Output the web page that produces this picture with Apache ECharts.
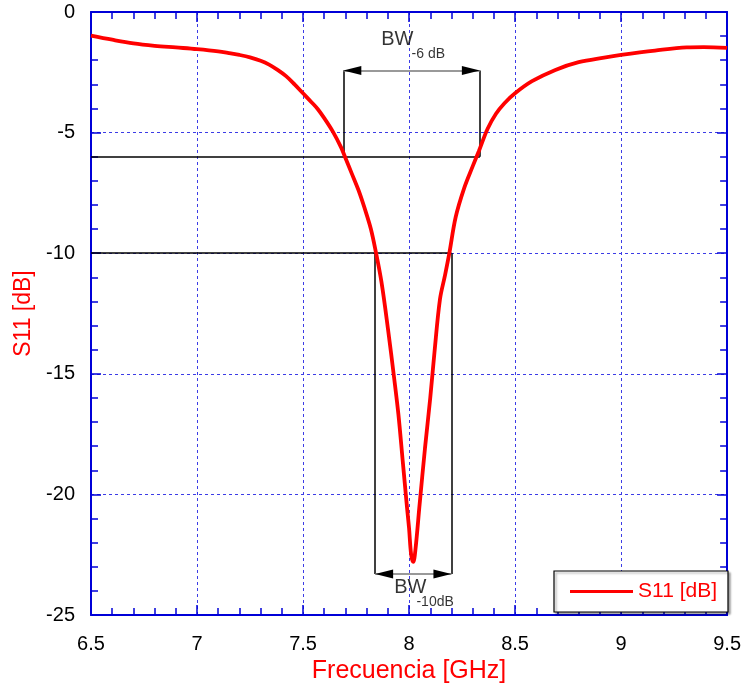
<!DOCTYPE html>
<html>
<head>
<meta charset="utf-8">
<style>html,body{margin:0;padding:0;background:#fff}#c{width:744px;height:689px}</style>
<script src="https://cdn.jsdelivr.net/npm/echarts@6/dist/echarts.min.js"></script>
</head>
<body>
<div id="c"></div>
<script>
// Frequency (GHz) and S11 (dB)
const freq = [6.50,6.60,6.70,6.80,6.90,7.00,7.10,7.15,7.20,7.25,7.30,7.34,7.38,7.42,7.46,7.50,7.54,7.57,7.60,7.64,7.68,7.70,7.73,7.76,7.78,7.80,7.82,7.84,7.87,7.90,7.93,7.95,7.97,7.99,8.00,8.01,8.02,8.03,8.05,8.075,8.10,8.12,8.146,8.17,8.19,8.22,8.26,8.30,8.33,8.37,8.41,8.45,8.50,8.58,8.69,8.80,8.92,9.00,9.16,9.31,9.39,9.50];
const s11  = [-0.98,-1.15,-1.30,-1.40,-1.47,-1.54,-1.63,-1.70,-1.78,-1.88,-2.02,-2.18,-2.40,-2.66,-3.00,-3.37,-3.74,-4.03,-4.40,-4.95,-5.62,-6.05,-6.70,-7.35,-7.85,-8.40,-9.00,-9.80,-11.2,-13.1,-15.2,-16.7,-18.6,-20.5,-21.4,-22.5,-22.8,-22.3,-20.4,-18.1,-16.0,-14.1,-11.9,-10.9,-10.0,-8.5,-7.3,-6.4,-5.75,-4.85,-4.22,-3.78,-3.37,-2.87,-2.40,-2.08,-1.89,-1.78,-1.60,-1.47,-1.46,-1.49];

// Bandwidth annotations: [lower edge, upper edge] GHz, threshold dB, arrow level dB
const bw6Edges = [7.69, 8.334];
const bw6Level = -6;
const bw6Arrow = -2.43;
const bw10Edges = [7.84, 8.20];
const bw10Level = -10;
const bw10Arrow = -23.3;

// Annotation texts and their positions (GHz, dB)
const annTexts = ['BW', '-6 dB', 'BW', '-10dB'];
const annX = [7.945, 8.091, 8.006, 8.123];
const annY = [-1.16, -1.74, -23.84, -24.46];
const annSize = [20, 14, 20, 14];

// Axis settings
const xMin = 6.5, xMax = 9.5, xStep = 0.5;
const yMin = -25, yMax = 0, yStep = 5;

const blue = '#0000d8';
const gridColor = '#3c3ce6';
const font = 'Liberation Sans';

function seg(a, b) {
  return [{ coord: a }, { coord: b }];
}
function headLeft(p) {
  return { coord: p, symbol: 'triangle', symbolSize: [9, 18], symbolRotate: 90,
           symbolOffset: [9, 0], itemStyle: { color: '#000' } };
}
function headRight(p) {
  return { coord: p, symbol: 'triangle', symbolSize: [9, 18], symbolRotate: -90,
           symbolOffset: [-9, 0], itemStyle: { color: '#000' } };
}

const chart = echarts.init(document.getElementById('c'), null, { renderer: 'canvas' });

const baseAxisLine = { show: true, onZero: false, lineStyle: { color: blue, width: 2 } };
const tickCommon = { show: true, inside: true, length: 10, lineStyle: { color: blue, width: 1.5 } };
const minorCommon = { show: true, splitNumber: 5, length: 7, lineStyle: { color: blue, width: 1.5 } };
const splitCommon = { show: true, lineStyle: { color: gridColor, type: [3, 3], width: 1 } };

chart.setOption({
  animation: false,
  backgroundColor: '#fff',
  grid: { left: 91, right: 14, top: 12, bottom: 72, containLabel: false },
  legend: {
    data: ['S11 [dB]'],
    right: 16, top: 571,
    backgroundColor: '#fff',
    borderColor: '#000', borderWidth: 1.2,
    padding: [10, 11, 10, 16],
    icon: 'rect', itemWidth: 63, itemHeight: 3, itemGap: 7,
    shadowColor: 'rgba(0,0,0,0.35)', shadowOffsetX: 2, shadowOffsetY: 2, shadowBlur: 2,
    textStyle: { color: '#ff0000', fontSize: 21, fontFamily: font }
  },
  xAxis: [{
    type: 'value', min: xMin, max: xMax, interval: xStep, position: 'bottom',
    name: 'Frecuencia [GHz]', nameLocation: 'middle', nameGap: 44,
    nameTextStyle: { color: '#ff0000', fontSize: 25, fontFamily: font },
    axisLine: baseAxisLine, axisTick: tickCommon, minorTick: minorCommon,
    axisLabel: { color: '#000', fontSize: 20, margin: 19, fontFamily: font,
      formatter: v => String(+v.toFixed(1)) },
    splitLine: splitCommon
  }, {
    type: 'value', min: xMin, max: xMax, interval: xStep, position: 'top',
    axisLine: baseAxisLine, axisTick: tickCommon, minorTick: minorCommon,
    axisLabel: { show: false }, splitLine: { show: false }
  }],
  yAxis: [{
    type: 'value', min: yMin, max: yMax, interval: yStep, position: 'left',
    name: 'S11 [dB]', nameLocation: 'middle', nameGap: 56, nameRotate: 90,
    nameTextStyle: { color: '#ff0000', fontSize: 23, fontFamily: font },
    axisLine: baseAxisLine, axisTick: tickCommon, minorTick: minorCommon,
    axisLabel: { color: '#000', fontSize: 20, margin: 16, fontFamily: font },
    splitLine: splitCommon
  }, {
    type: 'value', min: yMin, max: yMax, interval: yStep, position: 'right',
    axisLine: baseAxisLine, axisTick: tickCommon, minorTick: minorCommon,
    axisLabel: { show: false }, splitLine: { show: false }
  }],
  series: [{
    name: 'annotations', type: 'line', data: [], silent: true, z: 2,
    markLine: {
      silent: true, symbol: ['none', 'none'], animation: false,
      label: { show: false },
      lineStyle: { color: '#000', width: 1.5, type: 'solid' },
      data: [
        seg([xMin, bw6Level], [bw6Edges[1], bw6Level]),
        seg([bw6Edges[0], bw6Level], [bw6Edges[0], bw6Arrow]),
        seg([bw6Edges[1], bw6Level], [bw6Edges[1], bw6Arrow]),
        seg([xMin, bw10Level], [bw10Edges[1], bw10Level]),
        seg([bw10Edges[0], bw10Level], [bw10Edges[0], bw10Arrow]),
        seg([bw10Edges[1], bw10Level], [bw10Edges[1], bw10Arrow])
      ]
    }
  }, {
    name: 'arrows', type: 'line', data: [], silent: true, z: 3,
    markLine: {
      silent: true, animation: false, symbol: ['none', 'none'],
      label: { show: false },
      lineStyle: { color: '#777', width: 1.5, type: 'solid' },
      data: [
        seg([bw6Edges[0], bw6Arrow], [bw6Edges[1], bw6Arrow]),
        seg([bw10Edges[0], bw10Arrow], [bw10Edges[1], bw10Arrow])
      ]
    },
    markPoint: {
      silent: true, animation: false,
      label: { show: false },
      data: [
        headLeft([bw6Edges[0], bw6Arrow]), headRight([bw6Edges[1], bw6Arrow]),
        headLeft([bw10Edges[0], bw10Arrow]), headRight([bw10Edges[1], bw10Arrow])
      ]
    }
  }, {
    name: 'S11 [dB]', type: 'line', z: 5,
    data: freq.map((f, i) => [f, s11[i]]),
    showSymbol: false, smooth: 0.35,
    itemStyle: { color: '#ff0000' },
    lineStyle: { color: '#ff0000', width: 3.8 }
  }, {
    name: 'labels', type: 'scatter', symbolSize: 0, silent: true, z: 6,
    data: annTexts.map((t, i) => ({
      value: [annX[i], annY[i]],
      label: { show: true, position: 'inside', formatter: t, fontSize: annSize[i],
        color: '#000', fontFamily: font }
    }))
  }]
});
</script>
</body>
</html>
